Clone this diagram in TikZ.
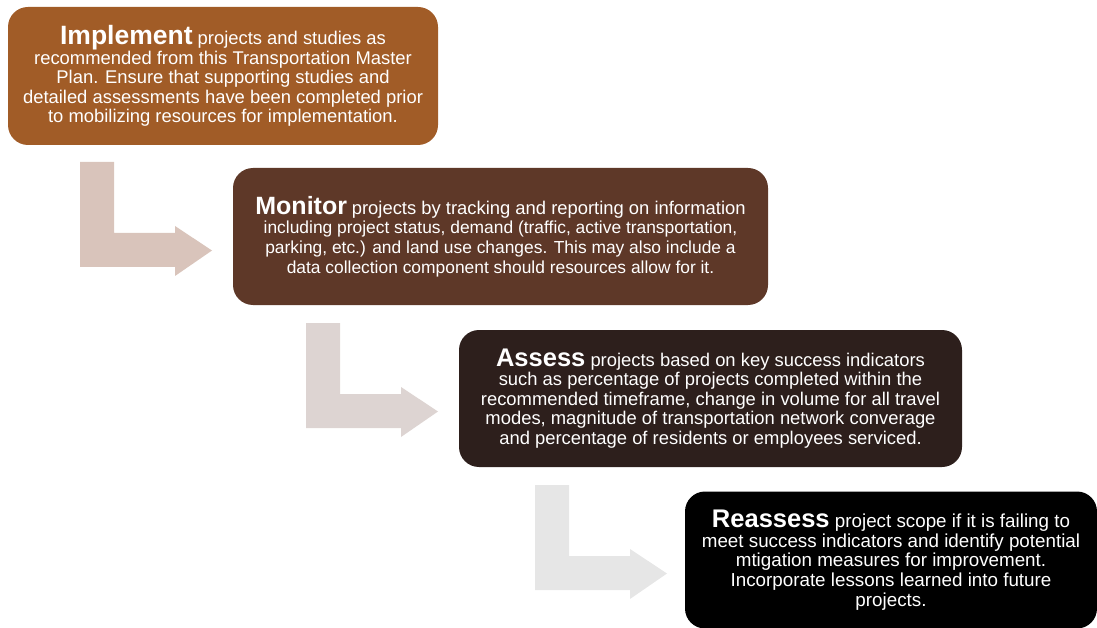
\documentclass[tikz,border=0pt]{standalone}
\usepackage{fontspec}
\setmainfont{Liberation Sans}
\definecolor{cimpl}{RGB}{161,92,39}
\definecolor{cmon}{RGB}{94,56,40}
\definecolor{cass}{RGB}{45,31,28}
\definecolor{crea}{RGB}{0,0,0}
\definecolor{aone}{RGB}{217,196,187}
\definecolor{atwo}{RGB}{221,212,210}
\definecolor{athree}{RGB}{230,230,230}
\tikzset{
  stagebox/.style={rounded corners=20pt, inner sep=0pt, text=white, align=center, minimum height=137pt},
}
\newcommand{\headw}[2]{{\fontsize{#1}{#1}\selectfont\bfseries #2}}
\newcommand{\lblock}[3]{%
  \fill[#3, shift={(#1,#2)}] (0,0) -- (34,0) -- (34,71) -- (95,71) -- (95,64) -- (132,88.5) -- (95,114) -- (95,105) -- (0,105) -- cycle;}
\begin{document}
\begin{tikzpicture}[x=1pt,y=-1pt]
\useasboundingbox (0,0) rectangle (1097,628);
% flow arrows
\lblock{80}{162}{aone}
\lblock{306}{323}{atwo}
\lblock{535}{485}{athree}
% boxes
\node[stagebox, fill=cimpl, minimum width=430pt, minimum height=138pt, font=\fontsize{18.4}{19.6}\selectfont] (impl) at (223,76)
 {\headw{26.5}{Implement} projects and studies as\\recommended from this Transportation Master\\Plan. Ensure that supporting studies and\\detailed assessments have been completed prior\\to mobilizing resources for implementation.};
\node[stagebox, fill=cmon, minimum width=535pt, font=\fontsize{17.4}{19.8}\selectfont] (mon) at (500.5,236.5)
 {\headw{25}{Monitor} {\fontsize{18.4}{19.8}\selectfont projects by tracking and reporting on information}\\including project status, demand (traffic, active transportation,\\parking, etc.) and land use changes. This may also include a\\data collection component should resources allow for it.};
\node[stagebox, fill=cass, minimum width=503pt, font=\fontsize{18.4}{19.5}\selectfont] (ass) at (710.5,398.5)
 {\headw{25.5}{Assess} projects based on key success indicators\\such as percentage of projects completed within the\\recommended timeframe, change in volume for all travel\\modes, magnitude of transportation network converage\\and percentage of residents or employees serviced.};
\node[stagebox, fill=crea, minimum width=412pt, font=\fontsize{18.8}{19.6}\selectfont] (rea) at (891,560)
 {\headw{25.5}{Reassess} project scope if it is failing to\\meet success indicators and identify potential\\mtigation measures for improvement.\\Incorporate lessons learned into future\\projects.};
\end{tikzpicture}
\end{document}
